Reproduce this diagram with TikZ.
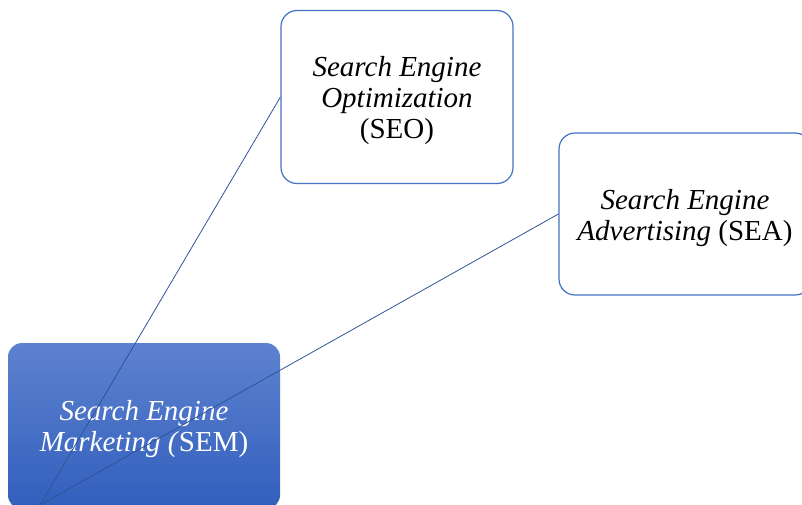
\documentclass[tikz,border=0pt]{standalone}
\usepackage{fontspec}
\setmainfont{Liberation Serif}
\begin{document}
\begin{tikzpicture}[x=1pt,y=-1pt,
  every node/.style={font=\fontsize{29}{31}\selectfont},
  leaf/.style={draw=accentblue,line width=1.2pt,rounded corners=16pt,fill=white},
  root/.style={draw=none,rounded corners=14pt,top color=semtop,bottom color=sembottom},
  caption/.style={align=center,inner sep=0pt,yshift=-4pt},
  link/.style={draw=linkblue,line width=0.8pt}]
\definecolor{accentblue}{HTML}{4472C4}
\definecolor{semtop}{HTML}{5D82CF}
\definecolor{sembottom}{HTML}{325FBD}
\definecolor{linkblue}{HTML}{2F5496}
\useasboundingbox (0,0) rectangle (802,504);
\clip (0,0) rectangle (802,504);
% child boxes
\node[leaf,minimum width=232pt,minimum height=173pt] (seo) at (397,97) {};
\node[caption] (seotext) at (seo.center)
  {\textit{Search Engine}\\\textit{Optimization}\\(SEO)};
\node[leaf,minimum width=252pt,minimum height=162pt] (sea) at (685,214) {};
\node[caption] (seatext) at (sea.center)
  {\textit{Search Engine}\\\textit{Advertising} (SEA)};
% root box
\node[root,minimum width=272pt,minimum height=166pt] (sem) at (144,426) {};
\node[caption,text=white,yshift=1pt] (semtext) at (sem.center)
  {\textit{Search Engine}\\\textit{Marketing (}SEM)};
% connectors
\coordinate (o) at (40,505);
\draw[link] (o) -- (seo.west);
\draw[link] (o) -- (sea.west);
\end{tikzpicture}
\end{document}
